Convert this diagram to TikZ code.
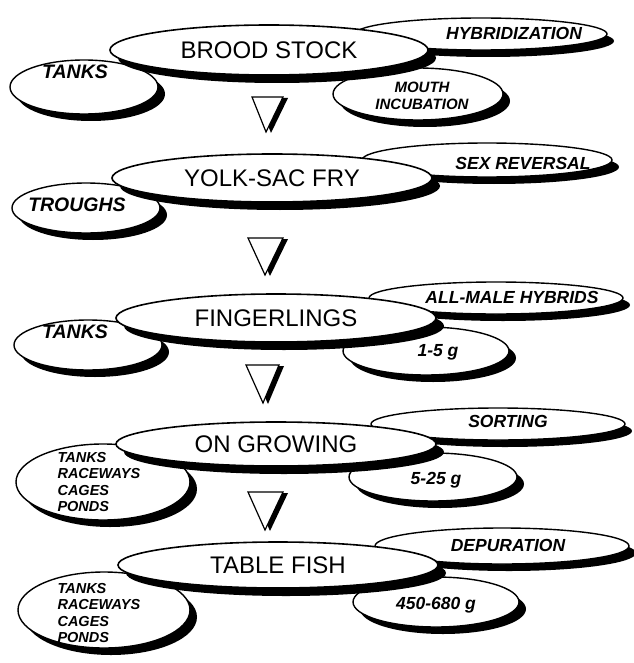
\documentclass[tikz,border=0pt]{standalone}
\usepackage{fontspec}
\setmainfont{Liberation Sans}
\usetikzlibrary{shapes.geometric,shadows}

\begin{document}
\begin{tikzpicture}[x=1pt,y=-1pt,
	stage/.style={ellipse,draw,line width=1.6pt,fill=white,inner sep=0pt,minimum width=320,minimum height=48,font=\fontsize{24}{27}\selectfont,drop shadow={shadow xshift=8pt,shadow yshift=-8pt,fill=black,opacity=1}},
	side/.style={ellipse,draw,line width=1.4pt,fill=white,inner sep=0pt,drop shadow={shadow xshift=7pt,shadow yshift=-7pt,fill=black,opacity=1}},
	sidetext/.style={font=\fontsize{17.5}{20}\selectfont\bfseries\itshape},
	listtext/.style={anchor=west,align=left,font=\fontsize{14.5}{16.3}\selectfont\bfseries\itshape},
	arrowtri/.style={draw,fill=white,line width=1.2pt,line join=miter,drop shadow={shadow xshift=5pt,shadow yshift=-1pt,fill=black,opacity=1}}]
		\fill[white] (0,0) rectangle (633,663);
		\useasboundingbox (0,0) rectangle (633,663);
		
		\node[side,minimum width=252,minimum height=32] (hyb) at (481,34) {};
		\node[sidetext] (hybt) at (514,33) {HYBRIDIZATION};
		\node[side,minimum width=148,minimum height=54] (tanksa) at (84,87) {};
		\node[sidetext,font=\fontsize{19.5}{22}\selectfont\bfseries\itshape] (tanksat) at (75,72) {TANKS};
		\node[side,minimum width=170,minimum height=52] (mouth) at (418,94) {};
		\node[sidetext,align=center,font=\fontsize{15}{17}\selectfont\bfseries\itshape] (moutht) at (422,96) {MOUTH\\INCUBATION};
		\node[stage,minimum width=318,minimum height=50] (brood) at (269,50) {BROOD STOCK};
		\draw[arrowtri] (252,97) -- (283,97) -- (266,132) -- cycle;
		
		\node[side,minimum width=250,minimum height=34] (sex) at (487,160) {};
		\node[sidetext] (sext) at (523,163) {SEX REVERSAL};
		\node[side,minimum width=148,minimum height=50] (troughs) at (86,208) {};
		\node[sidetext,font=\fontsize{19.5}{22}\selectfont\bfseries\itshape] (troughst) at (77,205) {TROUGHS};
		\node[stage] (yolk) at (272,178) {YOLK-SAC FRY};
		\draw[arrowtri] (248,238) -- (283,238) -- (265,275) -- cycle;
		
		\node[side,minimum width=254,minimum height=32] (male) at (496,298) {};
		\node[sidetext] (malet) at (512,297) {ALL-MALE HYBRIDS};
		\node[side,minimum width=148,minimum height=50] (tanksb) at (88,345) {};
		\node[sidetext,font=\fontsize{19.5}{22}\selectfont\bfseries\itshape] (tanksbt) at (75,332) {TANKS};
		\node[side,minimum width=166,minimum height=48] (gramsa) at (426,351) {};
		\node[sidetext] (gramsat) at (438,352) {1-5 g};
		\node[stage] (finger) at (276,318) {FINGERLINGS};
		\draw[arrowtri] (246,365) -- (279,365) -- (263,403) -- cycle;
		
		\node[side,minimum width=254,minimum height=32] (sort) at (498,424) {};
		\node[sidetext] (sortt) at (508,421) {SORTING};
		\node[side,minimum width=174,minimum height=76] (unitsa) at (103,482) {};
		\node[listtext] (unitsat) at (54,482) {TANKS\\RACEWAYS\\CAGES\\PONDS};
		\node[side,minimum width=168,minimum height=48] (gramsb) at (433,477) {};
		\node[sidetext] (gramsbt) at (436,480) {5-25 g};
		\node[stage,minimum height=44] (grow) at (276,444) {ON GROWING};
		\draw[arrowtri] (248,492) -- (283,492) -- (265,530) -- cycle;
		
		\node[side,minimum width=254,minimum height=36] (dep) at (502,546) {};
		\node[sidetext] (dept) at (508,545) {DEPURATION};
		\node[side,minimum width=172,minimum height=76] (unitsb) at (104,610) {};
		\node[listtext] (unitsbt) at (54,613) {TANKS\\RACEWAYS\\CAGES\\PONDS};
		\node[side,minimum width=166,minimum height=50] (gramsc) at (436,602) {};
		\node[sidetext] (gramsct) at (436,605) {450-680 g};
		\node[stage,minimum height=46] (table) at (278,565) {TABLE FISH};

	\end{tikzpicture}
\end{document}
